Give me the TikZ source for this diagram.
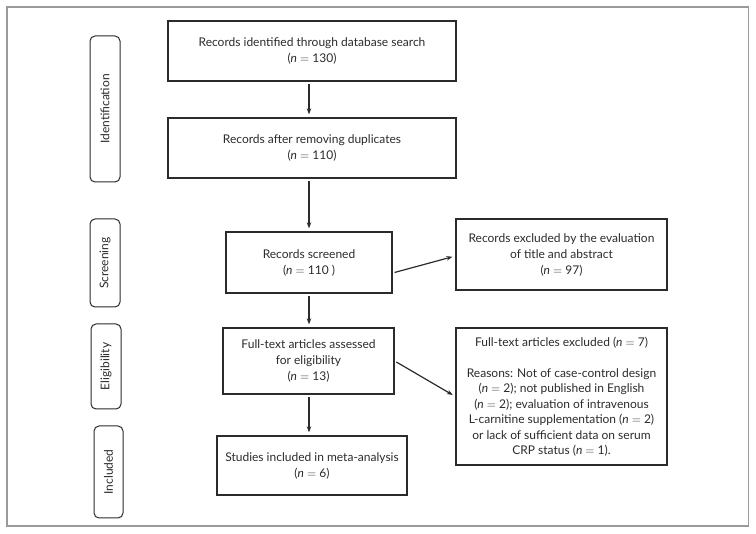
\documentclass[tikz,border=0pt]{standalone}
\usepackage{fontspec}
\setmainfont{Lato}
\usetikzlibrary{arrows.meta,calc}
\definecolor{ink}{HTML}{2B2B2B}
\definecolor{frame}{HTML}{9A9A9A}
\newcommand{\eqn}{\ $=$\ }
\begin{document}
\begin{tikzpicture}[x=1pt,y=-1pt,
  box/.style={draw=ink,line width=1.3pt,rectangle,align=center,inner sep=0pt,
    text=ink,font=\fontsize{12}{16}\selectfont},
  phase/.style={draw=ink,line width=1pt,rounded corners=5pt,rectangle,inner sep=0pt,
    text=ink},
  ptext/.style={rotate=90,text=ink,font=\fontsize{12}{14}\selectfont},
  arr/.style={draw=ink,line width=1.2pt,-{Stealth[length=6pt,width=4.5pt]},shorten <=2pt,shorten >=3pt}]
\useasboundingbox (0,0) rectangle (756,534);
\draw[frame,line width=1.3pt] (7,7) rectangle (748.5,526);
% phase labels
\node[phase,minimum width=30,minimum height=146] (pid) at (105,109) {};
\node[ptext] (tid) at (pid.center) {Identification};
\node[phase,minimum width=30,minimum height=88] (psc) at (105,263) {};
\node[ptext] (tsc) at (psc.center) {Screening};
\node[phase,minimum width=30,minimum height=85] (pel) at (106,366.5) {};
\node[ptext] (tel) at (pel.center) {Eligibility};
\node[phase,minimum width=29,minimum height=92] (pin) at (108.5,472) {};
\node[ptext] (tin) at (pin.center) {Included};
% boxes
\node[box,minimum width=288,minimum height=60] (b1) at (312,51)
  {Records identified through database search\\(\textit{n}\eqn130)};
\node[box,minimum width=288,minimum height=60] (b2) at (312,148)
  {Records after removing duplicates\\(\textit{n}\eqn110)};
\node[box,minimum width=166,minimum height=61] (b3) at (309,262.5)
  {Records screened\\(\textit{n}\eqn110 )};
\node[box,minimum width=211,minimum height=71] (r1) at (561.5,254.5)
  {Records excluded by the evaluation\\of title and abstract\\(\textit{n}\eqn97)};
\node[box,minimum width=171,minimum height=66] (b4) at (308.5,361)
  {Full-text articles assessed\\for eligibility\\(\textit{n}\eqn13)};
\node[box,minimum width=211,minimum height=137,font=\fontsize{12}{15.5}\selectfont] (r2) at (561.5,396.5)
  {Full-text articles excluded (\textit{n}\eqn7)\\[15.5pt]Reasons: Not of case-control design\\(\textit{n}\eqn2); not published in English\\(\textit{n}\eqn2); evaluation of intravenous\\L-carnitine supplementation (\textit{n}\eqn2)\\or lack of sufficient data on serum\\CRP status (\textit{n}\eqn1).};
\node[box,minimum width=190,minimum height=59] (b5) at (312,465.5)
  {Studies included in meta-analysis\\(\textit{n}\eqn6)};
% arrows
\coordinate (ax) at (309,0);
\draw[arr] (b1.south -| ax) -- (b2.north -| ax);
\draw[arr] (b2.south -| ax) -- (b3.north -| ax);
\draw[arr] (b3.south -| ax) -- (b4.north -| ax);
\draw[arr] (b4.south -| ax) -- (b5.north -| ax);
\coordinate (s1) at ($(b3.east)+(0,10.5)$);
\coordinate (e1) at ($(r1.west)+(0,1.5)$);
\draw[arr] (s1) -- (e1);
\draw[arr] (b4.east) -- (r2.west);
\end{tikzpicture}
\end{document}
